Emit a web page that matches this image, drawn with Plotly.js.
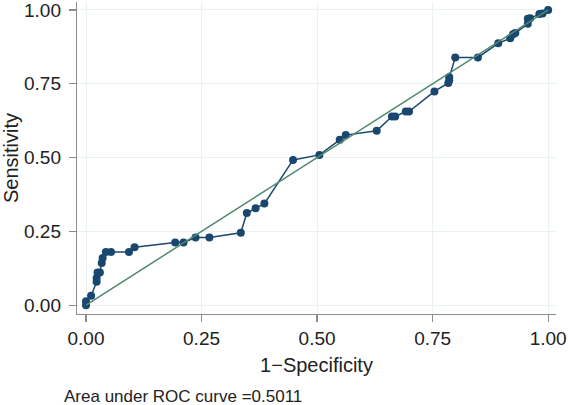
<!DOCTYPE html>
<html>
<head>
<meta charset="utf-8">
<script src="https://cdn.plot.ly/plotly-3.0.1.min.js"></script>
<style>html,body{margin:0;padding:0;background:#fff;}#chart{width:568px;height:405px;}</style>
</head>
<body>
<div id="chart"></div>
<script>
// 1 - specificity (false positive rate) of each ROC point
var fpr = [0.000, 0.000, 0.011, 0.023, 0.023, 0.025, 0.030, 0.034, 0.036, 0.043,
           0.054, 0.093, 0.105, 0.193, 0.211, 0.237, 0.267, 0.335, 0.348, 0.367,
           0.386, 0.448, 0.505, 0.549, 0.562, 0.629, 0.662, 0.669, 0.692, 0.699,
           0.754, 0.784, 0.786, 0.786, 0.799, 0.848, 0.892, 0.918, 0.924, 0.929,
           0.956, 0.956, 0.961, 0.981, 0.988, 1.000];
// sensitivity of each ROC point
var tpr = [0.000, 0.013, 0.032, 0.079, 0.092, 0.111, 0.111, 0.143, 0.160, 0.180,
           0.180, 0.180, 0.196, 0.212, 0.212, 0.229, 0.229, 0.245, 0.312, 0.328,
           0.344, 0.492, 0.509, 0.560, 0.576, 0.591, 0.639, 0.639, 0.656, 0.656,
           0.724, 0.753, 0.762, 0.772, 0.839, 0.839, 0.887, 0.904, 0.918, 0.922,
           0.953, 0.970, 0.972, 0.986, 0.988, 1.000];
// reference (chance) line
var refX = [0, 1];
var refY = [0, 1];
var tickVals = [0, 0.25, 0.5, 0.75, 1];
var tickText = ["0.00", "0.25", "0.50", "0.75", "1.00"];
var aucLabel = "Area under ROC curve =0.5011";

var navy = "#1a476f";
var green = "#4f8a6c";
var font = "Liberation Sans, Arial, sans-serif";

var traces = [
  {x: fpr, y: tpr, type: "scatter", mode: "lines+markers",
   line: {color: navy, width: 1.5},
   marker: {color: navy, size: 8}, hoverinfo: "x+y"},
  {x: refX, y: refY, type: "scatter", mode: "lines",
   line: {color: green, width: 1.5}, hoverinfo: "skip"}
];

var axisCommon = {
  tickvals: tickVals, ticktext: tickText,
  showgrid: true, gridcolor: "#eaf1f2", gridwidth: 1,
  zeroline: false,
  showline: true, linecolor: "#8c8c8c", linewidth: 1.2,
  ticks: "outside", ticklen: 7, tickcolor: "#8c8c8c", tickwidth: 1.2,
  ticklabeloverflow: "allow",
  tickfont: {family: font, size: 19, color: "#222"}
};

var layout = {
  width: 568, height: 405,
  margin: {l: 77, r: 12, t: 2, b: 91},
  paper_bgcolor: "#fff", plot_bgcolor: "#fff",
  showlegend: false,
  xaxis: Object.assign({}, axisCommon, {
    range: [-0.0195, 1.017],
    title: {text: "1\u2212Specificity", font: {family: font, size: 20, color: "#222"}, standoff: 10}
  }),
  yaxis: Object.assign({}, axisCommon, {
    range: [-0.03, 1.027],
    ticklabelstandoff: 4,
    title: {text: "Sensitivity", font: {family: font, size: 20, color: "#222"}, standoff: 6}
  }),
  annotations: [{
    text: aucLabel, xref: "paper", yref: "paper",
    x: -0.0313, y: -0.265, xanchor: "left", yanchor: "middle",
    showarrow: false, font: {family: font, size: 17, color: "#222"}
  }]
};

Plotly.newPlot("chart", traces, layout, {displayModeBar: false, staticPlot: true});
</script>
</body>
</html>
